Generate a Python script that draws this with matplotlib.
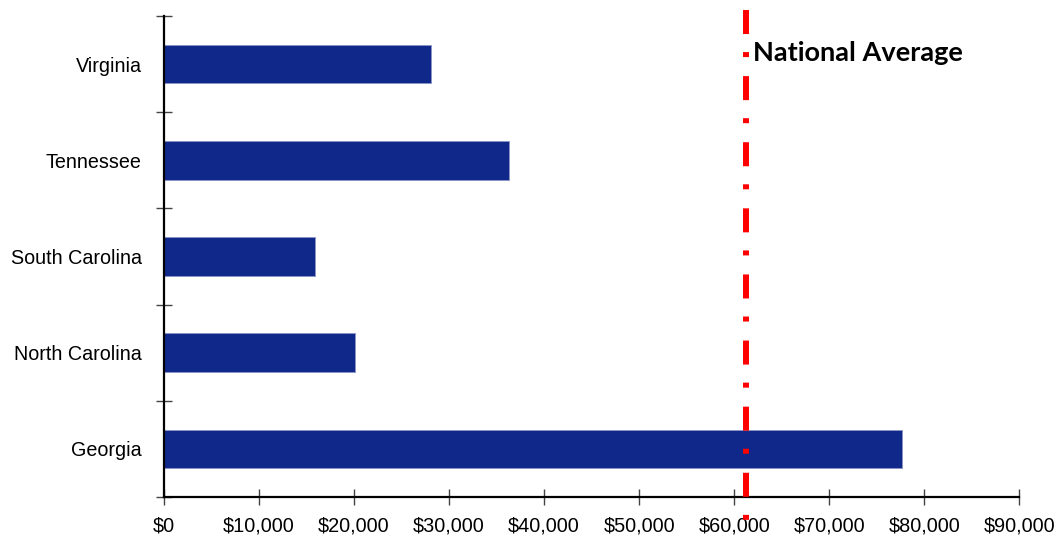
import matplotlib.pyplot as plt
from matplotlib.ticker import FuncFormatter

plt.rcParams['font.family'] = ['Liberation Sans', 'DejaVu Sans']
plt.rcParams['lines.scale_dashes'] = False

# data
states = ['Georgia', 'North Carolina', 'South Carolina', 'Tennessee', 'Virginia']
values = [77700, 20100, 15900, 36300, 28100]
national_avg = 61200

fig = plt.figure(figsize=(10.64, 5.39), dpi=100)
ax = fig.add_axes([0.154, 0.078, 0.804, 0.892])

ypos = range(len(states))
ax.barh(ypos, values, height=0.4, color='#10288a', edgecolor='#8a94c4', linewidth=0.6, zorder=2)

# national average line, sticks out past the axes a bit
ax.plot([national_avg, national_avg], [4.562, -0.74], color='#ff0000', linewidth=4.3,
        dashes=(17.3, 13.0, 3.6, 13.7), solid_capstyle='butt', dash_capstyle='butt',
        clip_on=False, zorder=3)
ax.text(62000, 4.115, 'National Average', fontsize=19.5, fontweight='bold',
        family=['Lato', 'DejaVu Sans'], va='center', ha='left', color='black')

ax.set_xlim(0, 90000)
ax.set_ylim(-0.5, 4.5)
ax.set_xticks(range(0, 90001, 10000))
ax.xaxis.set_major_formatter(FuncFormatter(lambda v, p: '${:,.0f}'.format(v)))
ax.set_yticks(list(ypos))
ax.set_yticklabels(states)
ax.set_yticks([i - 0.5 for i in range(6)], minor=True)

ax.tick_params(axis='x', direction='inout', length=11.5, width=1, color='#444444',
               labelsize=14.3, pad=8)
ax.tick_params(axis='y', which='major', length=0, labelsize=14.2, pad=16)
ax.tick_params(axis='y', which='minor', direction='inout', length=11, width=1, color='#444444')

for s in ['top', 'right']:
    ax.spines[s].set_visible(False)
for s in ['left', 'bottom']:
    ax.spines[s].set_linewidth(1.6)
    ax.spines[s].set_color('black')

fig.savefig('out.png', dpi=100)
